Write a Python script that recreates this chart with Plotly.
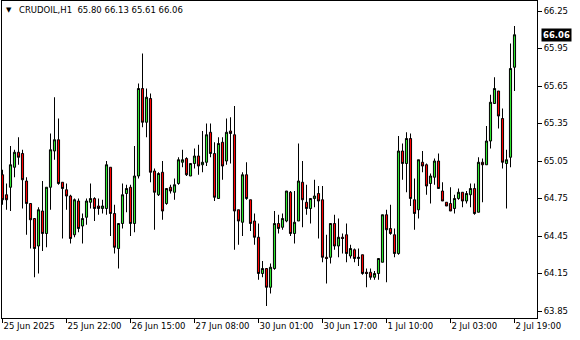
import plotly.graph_objects as go

symbol = "CRUDOIL,H1"
tick_positions = [0, 16, 32, 48, 64, 80, 96, 112, 128]
tick_labels = ["25 Jun 2025", "25 Jun 22:00", "26 Jun 15:00", "27 Jun 08:00",
               "30 Jun 01:00", "30 Jun 17:00", "1 Jul 10:00", "2 Jul 03:00", "2 Jul 19:00"]
price_ticks = [63.85, 64.15, 64.45, 64.75, 65.05, 65.35, 65.65, 65.95, 66.25]

opens = [64.94, 64.78, 64.84, 65.00, 65.12, 65.11, 64.89, 64.71, 64.59, 64.37,
         64.65, 64.47, 64.84, 65.13, 65.22, 64.88, 64.82, 64.77, 64.46, 64.73,
         64.53, 64.60, 64.72, 64.75, 64.69, 64.67, 64.67, 65.00, 64.63, 64.35,
         64.55, 64.79, 64.84, 64.55, 64.93, 65.63, 65.36, 65.55, 64.97, 64.78,
         64.96, 64.71, 64.84, 64.80, 64.87, 65.04, 65.07, 64.93, 65.03, 65.09,
         65.02, 65.04, 65.28, 65.11, 64.75, 65.20, 65.05, 65.29, 65.26, 64.66,
         64.56, 64.94, 64.74, 64.57, 64.44, 64.15, 64.19, 64.04, 64.19, 64.55,
         64.52, 64.57, 64.80, 64.47, 64.57, 64.88, 64.72, 64.67, 64.75, 64.79,
         64.74, 64.28, 64.28, 64.55, 64.37, 64.44, 64.46, 64.29, 64.34, 64.27,
         64.30, 64.16, 64.16, 64.12, 64.15, 64.24, 64.62, 64.51, 64.46, 64.31,
         65.13, 65.03, 65.23, 64.74, 64.66, 65.04, 65.02, 64.87, 64.92, 65.05,
         64.81, 64.72, 64.71, 64.67, 64.75, 64.80, 64.73, 64.78, 64.83, 64.64,
         65.04, 65.02, 65.21, 65.51, 65.61, 65.39, 65.03, 65.08, 65.80]
highs = [64.98, 64.87, 65.17, 65.14, 65.24, 65.14, 64.92, 64.71, 64.59, 64.68,
         64.89, 64.84, 65.27, 65.56, 65.39, 64.88, 64.87, 64.78, 64.75, 64.75,
         64.63, 64.75, 64.87, 64.76, 64.75, 64.74, 65.05, 65.00, 64.70, 64.55,
         64.87, 64.86, 64.86, 65.17, 65.67, 65.91, 65.63, 65.59, 64.99, 64.96,
         65.05, 64.83, 64.86, 64.91, 65.08, 65.14, 65.08, 65.03, 65.15, 65.18,
         65.29, 65.35, 65.35, 65.20, 65.24, 65.24, 65.39, 65.40, 65.49, 64.66,
         64.96, 65.04, 64.74, 64.63, 64.55, 64.25, 64.19, 64.23, 64.65, 64.62,
         64.63, 64.81, 64.81, 64.81, 65.19, 65.05, 64.86, 64.75, 64.90, 64.85,
         64.85, 64.46, 64.55, 64.62, 64.59, 64.47, 64.55, 64.38, 64.35, 64.35,
         64.30, 64.19, 64.19, 64.17, 64.27, 64.62, 64.66, 64.70, 64.51, 65.25,
         65.19, 65.28, 65.27, 64.91, 65.06, 65.13, 65.03, 64.95, 65.07, 65.11,
         64.88, 64.72, 64.84, 64.78, 64.83, 64.80, 64.81, 64.87, 64.87, 65.08,
         65.07, 65.33, 65.58, 65.72, 65.61, 65.47, 65.14, 65.99, 66.13]
lows = [64.70, 64.66, 64.65, 64.92, 65.02, 64.67, 64.46, 64.35, 64.12, 64.15,
        64.33, 64.36, 64.66, 65.06, 64.86, 64.43, 64.66, 64.39, 64.44, 64.48,
        64.39, 64.54, 64.67, 64.57, 64.62, 64.63, 64.62, 64.45, 64.31, 64.19,
        64.51, 64.64, 64.45, 64.48, 64.91, 65.32, 65.24, 64.88, 64.50, 64.77,
        64.58, 64.70, 64.79, 64.74, 64.86, 65.00, 64.93, 64.93, 64.99, 64.94,
        64.96, 65.01, 65.08, 64.73, 64.75, 64.90, 65.02, 65.03, 64.34, 64.38,
        64.45, 64.74, 64.49, 64.38, 64.10, 64.12, 63.89, 63.99, 64.18, 64.47,
        64.50, 64.56, 64.45, 64.39, 64.57, 64.52, 64.62, 64.55, 64.68, 64.43,
        64.24, 64.07, 64.23, 64.34, 64.28, 64.31, 64.24, 64.27, 64.24, 64.21,
        64.14, 64.04, 64.10, 64.10, 64.10, 64.24, 64.08, 64.46, 64.28, 64.30,
        64.90, 64.80, 64.69, 64.50, 64.59, 64.96, 64.78, 64.71, 64.86, 64.83,
        64.73, 64.69, 64.65, 64.63, 64.74, 64.68, 64.71, 64.68, 64.62, 64.64,
        64.72, 65.02, 65.15, 65.51, 65.31, 64.99, 64.67, 65.00, 65.61]
closes = [64.74, 64.74, 65.02, 65.12, 65.08, 64.90, 64.71, 64.58, 64.35, 64.66,
          64.47, 64.84, 65.14, 65.22, 64.87, 64.83, 64.77, 64.43, 64.74, 64.51,
          64.59, 64.73, 64.75, 64.67, 64.67, 64.69, 65.02, 64.63, 64.36, 64.55,
          64.78, 64.83, 64.55, 64.93, 65.63, 65.36, 65.56, 64.96, 64.80, 64.95,
          64.65, 64.83, 64.81, 64.86, 65.06, 65.06, 64.94, 65.03, 65.09, 65.01,
          65.04, 65.26, 65.11, 64.76, 65.19, 65.01, 65.28, 65.27, 64.65, 64.57,
          64.94, 64.75, 64.55, 64.44, 64.15, 64.19, 64.04, 64.20, 64.55, 64.51,
          64.59, 64.81, 64.47, 64.56, 64.89, 64.74, 64.67, 64.75, 64.77, 64.73,
          64.28, 64.27, 64.55, 64.37, 64.44, 64.43, 64.31, 64.35, 64.27, 64.28,
          64.15, 64.15, 64.12, 64.15, 64.27, 64.62, 64.50, 64.47, 64.31, 65.13,
          65.03, 65.23, 64.75, 64.63, 65.06, 65.01, 64.85, 64.93, 65.05, 64.83,
          64.73, 64.69, 64.65, 64.75, 64.80, 64.73, 64.79, 64.83, 64.63, 65.04,
          65.02, 65.21, 65.52, 65.63, 65.41, 65.04, 65.06, 65.79, 66.06]

bars = list(range(len(opens)))
FONT = "DejaVu Sans"

fig = go.Figure(go.Candlestick(
    x=bars, open=opens, high=highs, low=lows, close=closes,
    increasing=dict(line=dict(color="black", width=1), fillcolor="#2EE62E"),
    decreasing=dict(line=dict(color="black", width=1), fillcolor="#FF0000"),
    whiskerwidth=0, hoverinfo="skip", showlegend=False,
))

fig.update_layout(
    width=580, height=340,
    margin=dict(l=2, r=43, t=1, b=22),
    paper_bgcolor="white", plot_bgcolor="white",
    boxgap=0.25,
    font=dict(family=FONT, size=8.5, color="black"),
    xaxis=dict(
        range=[-0.125, 133.625], rangeslider=dict(visible=False),
        tickmode="array", tickvals=tick_positions, ticktext=tick_labels,
        ticks="outside", ticklen=4, tickcolor="black", ticklabelposition="outside right",
        showgrid=False, zeroline=False, showline=True, linecolor="black",
        linewidth=1, mirror=True, tickfont=dict(family=FONT, size=8.5, color="black"),
    ),
    yaxis=dict(
        side="right", range=[63.794, 66.33],
        tickmode="array", tickvals=price_ticks,
        ticktext=[f"{v:.2f}" for v in price_ticks],
        ticks="outside", ticklen=4, tickcolor="black",
        showgrid=False, zeroline=False, showline=True, linecolor="black",
        linewidth=1, mirror=True, tickfont=dict(family=FONT, size=8.5, color="black"),
    ),
)

last_close = closes[-1]
fig.add_annotation(
    x=1, xref="paper", y=last_close, yref="y", xanchor="left", yanchor="middle",
    xshift=4, text=f"<b>{last_close:.2f}</b>", showarrow=False,
    bgcolor="black", font=dict(family=FONT, size=8.5, color="white"), borderpad=1,
)

fig.add_annotation(
    x=0, xref="paper", y=1, yref="paper", xanchor="left", yanchor="top",
    xshift=2, yshift=-3, text="▼", showarrow=False,
    font=dict(family=FONT, size=7, color="black"),
)
fig.add_annotation(
    x=0, xref="paper", y=1, yref="paper", xanchor="left", yanchor="top",
    xshift=15, yshift=-2,
    text=f"{symbol}  {opens[-1]:.2f} {highs[-1]:.2f} {lows[-1]:.2f} {closes[-1]:.2f}",
    showarrow=False, font=dict(family=FONT, size=8.5, color="black"),
)

fig.write_html("out.html")
